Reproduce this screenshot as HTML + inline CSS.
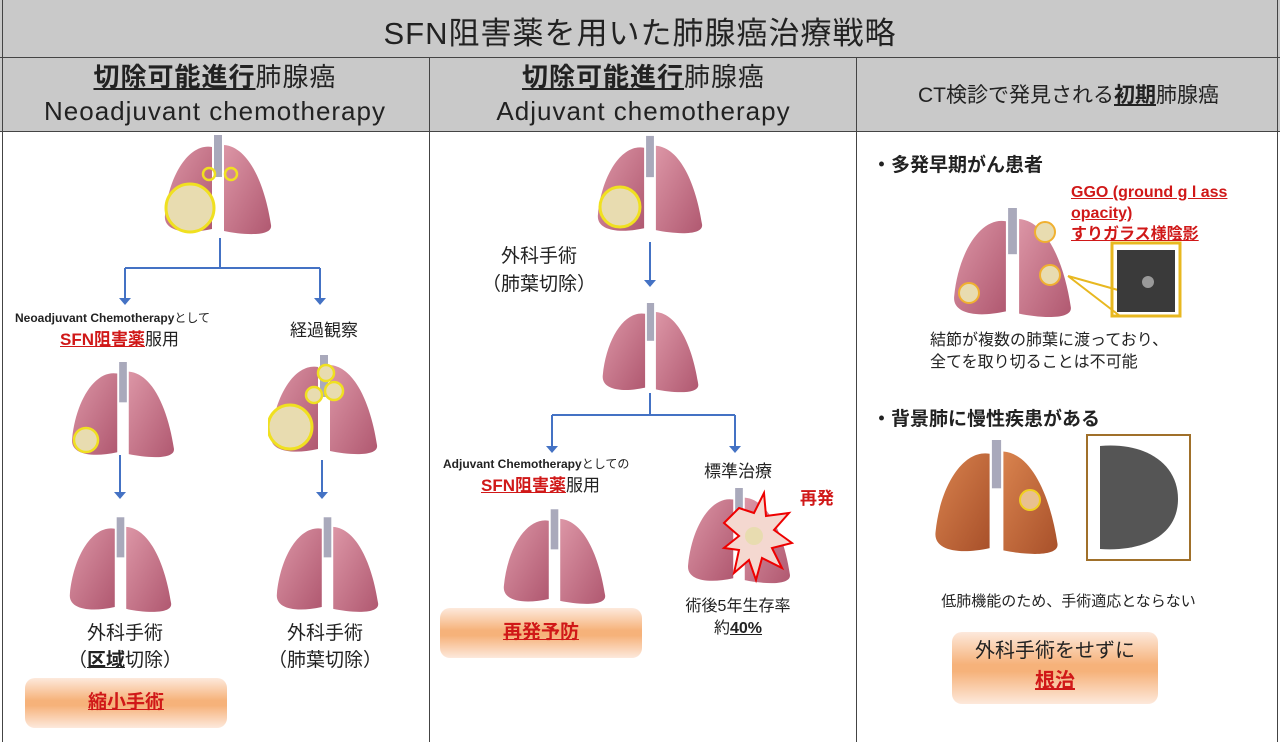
<!DOCTYPE html>
<html><head><meta charset="utf-8"><style>
body{margin:0;width:1280px;height:742px;position:relative;background:#fff;font-family:"Liberation Sans","Noto Sans CJK JP",sans-serif;overflow:hidden;color:#222}
.a{position:absolute;white-space:nowrap}
.c{text-align:center}
.hd{background:#c9c9c9}
.r{color:#d01818;font-weight:bold;text-decoration:underline}
.b{font-weight:bold}
.u{text-decoration:underline}
.box{position:absolute;border-radius:10px;background:linear-gradient(#fde9dc,#f6b27a 45%,#f6b27a 55%,#fde9dc);text-align:center}
svg.l{position:absolute}
</style></head><body>
<svg width="0" height="0" style="position:absolute"><defs>
<linearGradient id="pk" x1="0" y1="0" x2="1" y2="1"><stop offset="0" stop-color="#dc96a6"/><stop offset="1" stop-color="#b05870"/></linearGradient>
<linearGradient id="or" x1="0" y1="0" x2="1" y2="1"><stop offset="0" stop-color="#d9834e"/><stop offset="1" stop-color="#a8502a"/></linearGradient>
<symbol id="lung" viewBox="0 0 110 100"><rect x="51" y="0" width="8" height="42" fill="#a9a9bb"/><path d="M49,12 C26,8 6,40 2,80 C0,96 22,100 49,94 Z" fill="url(#pk)"/><path d="M61,10 C86,12 102,50 108,90 C110,102 80,100 61,96 Z" fill="url(#pk)"/></symbol>
<symbol id="lungo" viewBox="0 0 110 100"><rect x="51" y="0" width="8" height="42" fill="#a9a9bb"/><path d="M49,12 C26,8 6,40 2,80 C0,96 22,100 49,94 Z" fill="url(#or)"/><path d="M61,10 C86,12 102,50 108,90 C110,102 80,100 61,96 Z" fill="url(#or)"/></symbol>
</defs></svg>
<div class="a hd" style="left:0;top:0;width:1280px;height:57px;border-bottom:1px solid #444"></div>
<div class="a c" style="left:0;top:8px;width:1280px;font-size:31px;letter-spacing:1px">SFN阻害薬を用いた肺腺癌治療戦略</div>
<div class="a hd" style="left:0;top:58px;width:1280px;height:73px;border-bottom:1px solid #444"></div>
<div class="a" style="left:2px;top:0;width:1px;height:742px;background:#444"></div>
<div class="a" style="left:429px;top:58px;width:1px;height:684px;background:#444"></div>
<div class="a" style="left:856px;top:58px;width:1px;height:684px;background:#444"></div>
<div class="a" style="left:1277px;top:0;width:1px;height:742px;background:#444"></div>
<div class="a c" style="left:0;top:60px;width:430px;font-size:26px;line-height:34px;letter-spacing:1px"><span class="b u">切除可能進行</span>肺腺癌<br>Neoadjuvant chemotherapy</div>
<div class="a c" style="left:430px;top:60px;width:427px;font-size:26px;line-height:34px;letter-spacing:1px"><span class="b u">切除可能進行</span>肺腺癌<br>Adjuvant chemotherapy</div>
<div class="a c" style="left:857px;top:79px;width:423px;font-size:21px">CT検診で発見される<span class="b u">初期</span>肺腺癌</div>
<svg class="l" style="left:163px;top:135px" width="110" height="100"><use href="#lung"/><circle cx="27" cy="73" r="24" fill="#e8dcb0" stroke="#f0e020" stroke-width="3"/><circle cx="46" cy="39" r="6" fill="none" stroke="#f0e020" stroke-width="2.5"/><circle cx="68" cy="39" r="6" fill="none" stroke="#f0e020" stroke-width="2.5"/></svg>
<svg class="a" style="left:0;top:0" width="1280" height="742">
<g stroke="#4472c4" stroke-width="2" fill="none"><path d="M220,238V268M125,268H320M125,268V300M320,268V300M120,455V494M322,460V494M650,242V282M650,393V415M552,415H735M552,415V448M735,415V448"/></g>
<g fill="#4472c4"><path d="M119,298h12l-6,7z"/><path d="M314,298h12l-6,7z"/><path d="M114,492h12l-6,7z"/><path d="M316,492h12l-6,7z"/><path d="M644,280h12l-6,7z"/><path d="M546,446h12l-6,7z"/><path d="M729,446h12l-6,7z"/></g>
</svg>
<div class="a" style="left:15px;top:309px;font-size:12px"><b>Neoadjuvant Chemotherapy</b>として</div>
<div class="a" style="left:60px;top:325px;font-size:17px"><span class="r">SFN阻害薬</span>服用</div>
<div class="a" style="left:290px;top:316px;font-size:17px">経過観察</div>
<svg class="l" style="left:68px;top:362px" width="110" height="96"><use href="#lung"/><circle cx="18" cy="78" r="12" fill="#e8dcb0" stroke="#f0e020" stroke-width="2.5"/></svg>
<svg class="l" style="left:268px;top:355px" width="112" height="100"><use href="#lung"/><circle cx="22" cy="72" r="22" fill="#e8dcb0" stroke="#f0e020" stroke-width="3"/><circle cx="58" cy="18" r="8" fill="#e8dcb0" stroke="#f0e020" stroke-width="2.5"/><circle cx="66" cy="36" r="9" fill="#e8dcb0" stroke="#f0e020" stroke-width="2.5"/><circle cx="46" cy="40" r="8" fill="#e8dcb0" stroke="#f0e020" stroke-width="2.5"/></svg>
<svg class="l" style="left:68px;top:517px" width="105" height="96"><use href="#lung"/></svg>
<svg class="l" style="left:275px;top:517px" width="105" height="96"><use href="#lung"/></svg>
<div class="a c" style="left:25px;top:620px;width:200px;font-size:19px;line-height:27px">外科手術<br>（<span class="b u">区域</span>切除）</div>
<div class="a c" style="left:225px;top:620px;width:200px;font-size:19px;line-height:27px">外科手術<br>（肺葉切除）</div>
<div class="box" style="left:25px;top:678px;width:202px;height:50px"><span class="r" style="font-size:19px;line-height:50px">縮小手術</span></div>
<svg class="l" style="left:596px;top:135px" width="108" height="100"><use href="#lung"/><circle cx="24" cy="72" r="20" fill="#e8dcb0" stroke="#f0e020" stroke-width="3"/></svg>
<div class="a" style="left:482px;top:243px;font-size:19px;line-height:28px">　外科手術<br>（肺葉切除）</div>
<svg class="l" style="left:598px;top:303px" width="105" height="90"><use href="#lung"/></svg>
<div class="a" style="left:443px;top:455px;font-size:12px"><b>Adjuvant Chemotherapy</b>としての</div>
<div class="a" style="left:481px;top:471px;font-size:17px"><span class="r">SFN阻害薬</span>服用</div>
<div class="a c" style="left:688px;top:457px;width:100px;font-size:17px">標準治療</div>
<svg class="l" style="left:502px;top:508px" width="105" height="98"><use href="#lung"/></svg>
<svg class="l" style="left:684px;top:488px" width="110" height="96"><use href="#lung"/><path d="M55,20 L70,25 L80,5 L82,28 L105,25 L90,42 L108,55 L88,60 L98,80 L78,70 L72,92 L65,72 L50,85 L55,62 L40,60 L55,48 L40,35 Z" fill="#f4d8d0" stroke="#e00" stroke-width="2"/><circle cx="70" cy="48" r="9" fill="#e8dcb0"/></svg>
<div class="a" style="left:800px;top:484px;font-size:17px;color:#d01818;font-weight:bold">再発</div>
<div class="a c" style="left:678px;top:596px;width:120px;font-size:16px;line-height:22px">術後5年生存率<br>約<span class="b u">40%</span></div>
<div class="box" style="left:440px;top:608px;width:202px;height:50px"><span class="r" style="font-size:19px;line-height:50px">再発予防</span></div>
<div class="a" style="left:872px;top:150px;font-size:19px;font-weight:bold">・多発早期がん患者</div>
<div class="a" style="left:1071px;top:182px;font-size:16px;line-height:21px;color:#d01818;font-weight:bold;text-decoration:underline">GGO (ground g l ass<br>opacity)<br>すりガラス様陰影</div>
<svg class="l" style="left:945px;top:208px" width="135" height="110"><use href="#lung"/><circle cx="24" cy="85" r="10" fill="#e8dcb0" stroke="#f0b030" stroke-width="2"/><circle cx="100" cy="24" r="10" fill="#e8dcb0" stroke="#f0b030" stroke-width="2"/><circle cx="105" cy="67" r="10" fill="#e8dcb0" stroke="#f0b030" stroke-width="2"/></svg>
<svg class="a" style="left:1060px;top:240px" width="130" height="80"><path d="M8,36 L58,50 M8,36 L60,76" stroke="#e8b820" stroke-width="2"/><rect x="52" y="3" width="68" height="73" fill="none" stroke="#e8b820" stroke-width="3"/><rect x="57" y="10" width="58" height="62" fill="#3a3a3a"/><circle cx="88" cy="42" r="6" fill="#999"/></svg>
<div class="a" style="left:930px;top:330px;font-size:16px;line-height:22px">結節が複数の肺葉に渡っており、<br>全てを取り切ることは不可能</div>
<div class="a" style="left:872px;top:404px;font-size:19px;font-weight:bold">・背景肺に慢性疾患がある</div>
<svg class="l" style="left:918px;top:440px" width="157" height="115"><use href="#lungo"/><circle cx="112" cy="60" r="10" fill="#e8c090" stroke="#f0d020" stroke-width="2"/></svg>
<svg class="a" style="left:1086px;top:434px" width="106" height="128"><rect x="1" y="1" width="103" height="125" fill="#fff" stroke="#a0702a" stroke-width="2"/><path d="M14,12 C60,8 92,30 92,65 C92,100 60,118 14,115 Z" fill="#555"/></svg>
<div class="a c" style="left:857px;top:590px;width:423px;font-size:15px">低肺機能のため、手術適応とならない</div>
<div class="box" style="left:952px;top:632px;width:206px;height:68px;font-size:20px;line-height:30px;padding-top:4px">外科手術をせずに<br><span class="r">根治</span></div>
</body></html>
